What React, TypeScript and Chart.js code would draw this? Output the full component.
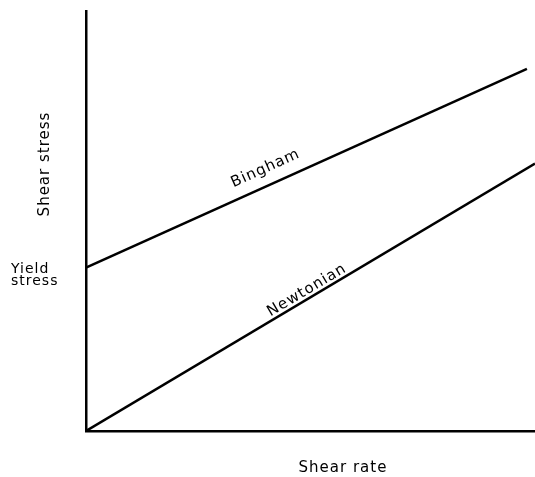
import React, { useEffect, useRef } from "react";
import { Chart, registerables } from "chart.js";

Chart.register(...registerables);

// Shear rate (x) and shear stress (y), arbitrary units
const binghamRate = [0, 9.82];
const binghamStress = [38.9, 86.2];
const newtonianRate = [0, 10];
const newtonianStress = [0, 63.7];

const seriesNames = ["Bingham", "Newtonian"];
// label anchors along each line (data coords)
const labelRate = [4.0, 4.92];
const labelStress = [62.5, 33.5];

const xTitle = "Shear rate";
const yTitle = "Shear stress";
const yieldLabel = ["Yield", "stress"];

const FONT = '"DejaVu Sans", sans-serif';

const labelPlugin = {
  id: "diagramLabels",
  afterDraw(chart: any) {
    const ctx = chart.ctx as CanvasRenderingContext2D;
    const xs = chart.scales.x;
    const ys = chart.scales.y;
    ctx.save();
    ctx.fillStyle = "#000";
    (ctx as any).letterSpacing = "1px";
    ctx.font = `15px ${FONT}`;
    ctx.textAlign = "center";
    ctx.textBaseline = "middle";

    const lines = [
      [binghamRate, binghamStress],
      [newtonianRate, newtonianStress],
    ];
    lines.forEach((ln, i) => {
      const x0 = xs.getPixelForValue(ln[0][0]);
      const y0 = ys.getPixelForValue(ln[1][0]);
      const x1 = xs.getPixelForValue(ln[0][1]);
      const y1 = ys.getPixelForValue(ln[1][1]);
      const ang = Math.atan2(y1 - y0, x1 - x0);
      const px = xs.getPixelForValue(labelRate[i]);
      const py = ys.getPixelForValue(labelStress[i]);
      ctx.save();
      ctx.translate(px, py);
      ctx.rotate(ang);
      ctx.fillText(seriesNames[i], 0, 0);
      ctx.restore();
    });

    // x title
    ctx.fillText(xTitle, 343, 468);

    // y title rotated
    ctx.save();
    ctx.translate(45, 164);
    ctx.rotate(-Math.PI / 2);
    ctx.fillText(yTitle, 0, 0);
    ctx.restore();

    // yield stress label
    (ctx as any).letterSpacing = "1px";
    ctx.font = `14px ${FONT}`;
    ctx.textAlign = "left";
    const yy = ys.getPixelForValue(binghamStress[0]);
    ctx.fillText(yieldLabel[0], 11, yy + 2);
    ctx.fillText(yieldLabel[1], 11, yy + 14);
    ctx.restore();
  },
};

export default function App() {
  const ref = useRef<HTMLCanvasElement | null>(null);
  useEffect(() => {
    if (!ref.current) return;
    const chart = new Chart(ref.current, {
      type: "scatter",
      data: {
        datasets: [
          {
            label: seriesNames[0],
            data: binghamRate.map((x, i) => ({ x, y: binghamStress[i] })),
            showLine: true,
            borderColor: "#000",
            borderWidth: 2.5,
            pointRadius: 0,
          },
          {
            label: seriesNames[1],
            data: newtonianRate.map((x, i) => ({ x, y: newtonianStress[i] })),
            showLine: true,
            borderColor: "#000",
            borderWidth: 2.5,
            pointRadius: 0,
          },
        ],
      },
      options: {
        animation: false,
        responsive: true,
        maintainAspectRatio: false,
        layout: { padding: { left: 86, top: 11, right: 0, bottom: 46 } },
        plugins: { legend: { display: false }, tooltip: { enabled: false } },
        scales: {
          x: {
            type: "linear",
            min: 0,
            max: 10,
            grid: { display: false, drawTicks: false },
            ticks: { display: false },
            border: { display: true, color: "#000", width: 2.5 },
          },
          y: {
            type: "linear",
            min: 0,
            max: 100,
            grid: { display: false, drawTicks: false },
            ticks: { display: false },
            border: { display: true, color: "#000", width: 2.5 },
          },
        },
      },
      plugins: [labelPlugin],
    });
    return () => chart.destroy();
  }, []);
  return (
    <div style={{ position: "absolute", left: 0, top: 0, width: 535, height: 477, background: "#fff" }}>
      <canvas ref={ref} />
    </div>
  );
}
